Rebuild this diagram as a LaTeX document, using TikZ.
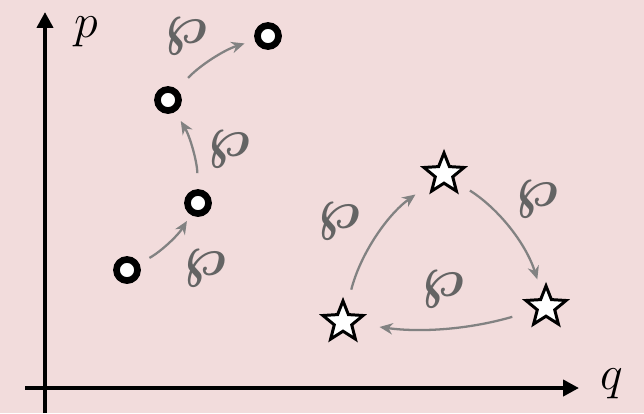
\documentclass[tikz,border=0pt]{standalone}
\usepackage{bm}
\usetikzlibrary{shapes.geometric,arrows.meta}
\definecolor{bgpink}{RGB}{242,220,220}
\definecolor{arrgray}{RGB}{130,130,130}
\definecolor{wpgray}{RGB}{100,100,100}
\newcommand{\wplabel}{\scalebox{1.32}{$\bm{\wp}$}}
\begin{document}
\begin{tikzpicture}[x=0.02cm,y=-0.02cm,
  dot/.style={circle,draw=black,fill=white,line width=3.8pt,inner sep=0pt,minimum size=12pt},
  starn/.style={star,star points=5,star point ratio=2.3,draw=black,fill=white,line width=1.7pt,inner sep=0pt,minimum size=24pt},
  flow/.style={draw=arrgray,line width=1.3pt,-{Stealth[length=7.5pt,width=6.5pt]}},
  wplab/.style={text=wpgray,inner sep=0pt,font=\Huge},
  axlab/.style={inner sep=0pt,font=\Huge},
  axis/.style={line width=2.3pt,-{Triangle[length=9pt,width=9pt]}}]
\fill[bgpink] (0,0) rectangle (644,413);
\useasboundingbox (0,0) rectangle (644,413);
% axes
\coordinate (ybot) at (45,413);
\coordinate (ytop) at (45,12);
\coordinate (xleft) at (25,388);
\coordinate (xright) at (579,388);
\draw[axis] (ybot) -- (ytop);
\draw[axis] (xleft) -- (xright);
\node[axlab] (plab) at (86,32) {\scalebox{1.1}{$p$}};
\node[axlab] (qlab) at (612,384) {\scalebox{1.1}{$q$}};
% circles
\node[dot] (c1) at (127,270) {};
\node[dot] (c2) at (198,203) {};
\node[dot] (c3) at (168,100) {};
\node[dot] (c4) at (268,36) {};
% stars
\node[starn] (s1) at (343,322) {};
\node[starn] (s2) at (444,174) {};
\node[starn] (s3) at (546,307) {};
% arrows between circles
\draw[flow,shorten <=14.5pt,shorten >=12pt] (c1.center) to[bend right=15] (c2.center);
\draw[flow,shorten <=17pt,shorten >=14pt] (c2.center) to[bend right=15] (c3.center);
\draw[flow,shorten <=17pt,shorten >=14pt] (c3.center) to[bend left=15] (c4.center);
% arrows between stars
\draw[flow,shorten <=19pt,shorten >=20pt] (s1.center) to[bend left=20] (s2.center);
\draw[flow,shorten <=17.5pt,shorten >=16.5pt] (s2.center) to[bend left=20] (s3.center);
\draw[flow,shorten <=20pt,shorten >=21pt] (s3.center) to[bend left=12] (s1.center);
% labels
\node[wplab] (w1) at (205,268) {\wplabel};
\node[wplab] (w2) at (229,149) {\wplabel};
\node[wplab] (w3) at (186,36) {\wplabel};
\node[wplab] (w4) at (339,221) {\wplabel};
\node[wplab] (w5) at (537,199) {\wplabel};
\node[wplab] (w6) at (443,289) {\wplabel};
\end{tikzpicture}
\end{document}
